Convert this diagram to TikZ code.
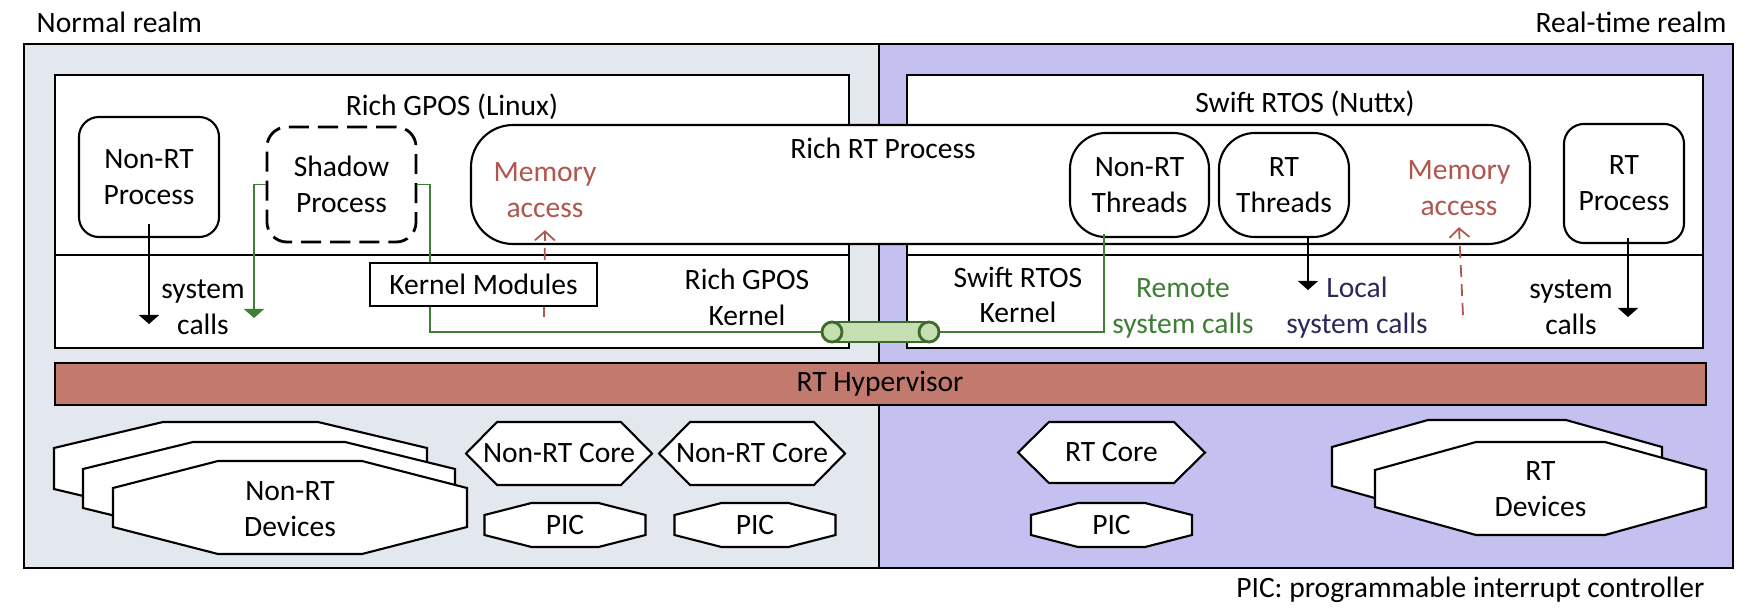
\documentclass[tikz,border=0pt]{standalone}
\usepackage{fontspec}
\setmainfont{Carlito}
\usetikzlibrary{arrows.meta,positioning}
\definecolor{normalbg}{HTML}{E3E8EE}
\definecolor{rtbg}{HTML}{C4C0EF}
\definecolor{hypbg}{HTML}{C27A6E}
\definecolor{memred}{HTML}{B0564C}
\definecolor{remgreen}{HTML}{3E7E35}
\definecolor{tubefill}{HTML}{C5DFB2}
\definecolor{tubeline}{HTML}{3C6A2A}
\definecolor{localblue}{HTML}{2A2A5A}
\tikzset{
  every node/.style={font=\fontsize{8.4}{10.2}\selectfont},
  box/.style={draw, line width=0.6pt, fill=white},
  proc/.style={draw, line width=0.6pt, fill=white, rounded corners=0.2cm, align=center, inner sep=0pt},
  thread/.style={proc, rounded corners=0.36cm, minimum height=1.04cm},
  txt/.style={align=center, inner sep=0pt},
  blk/.style={line width=0.45pt, -{Triangle[width=0.2cm,length=0.09cm]}},
  grn/.style={line width=0.5pt, draw=remgreen},
  memarrow/.style={line width=0.5pt, draw=memred, dash pattern=on 0.12cm off 0.07cm, -{Straight Barb[width=0.2cm,length=0.09cm]}},
  tube/.style={line width=0.8pt, draw=tubeline, fill=tubefill}
}
\newcommand{\chamf}[6]{%
  \draw[line width=0.6pt, fill=white] (#1-#3,#2-#4+#6) -- (#1-#3+#5,#2-#4) -- (#1+#3-#5,#2-#4) -- (#1+#3,#2-#4+#6) -- (#1+#3,#2+#4-#6) -- (#1+#3-#5,#2+#4) -- (#1-#3+#5,#2+#4) -- (#1-#3,#2+#4-#6) -- cycle;}

\begin{document}
\begin{tikzpicture}[x=0.01cm,y=-0.01cm]
\useasboundingbox (0,0) rectangle (1760,615);
\draw[line width=0.6pt, fill=normalbg] (24,44) rectangle (879,568);
\draw[line width=0.6pt, fill=rtbg] (879,44) rectangle (1733,568);
\draw[box] (55,75) rectangle (849,348);
\draw[line width=0.6pt] (55,255) -- (849,255);
\draw[box] (907,75) rectangle (1703,348);
\draw[line width=0.6pt] (907,255) -- (1703,255);
\draw[box, rounded corners=0.42cm] (471,125) rectangle (1530,244);
\draw[line width=0.6pt, fill=hypbg] (55,363) rectangle (1706,405);

\node[anchor=base west, inner sep=0pt] (nrealm) at (36,32) {Normal realm};
\node[anchor=base east, inner sep=0pt] (rrealm) at (1727,32) {Real-time realm};
\node[anchor=base] (gpos) at (452,115) {Rich GPOS (Linux)};
\node[anchor=base] (rtos) at (1305,113) {Swift RTOS (Nuttx)};
\node[anchor=base] (richrt) at (883,158) {Rich RT Process};
\node[anchor=base] (hyp) at (880,391) {RT Hypervisor};
\node[anchor=base east, inner sep=0pt] (legend) at (1705,597) {PIC: programmable interrupt controller};

\node[proc, minimum width=1.4cm, minimum height=1.2cm] (nrtp) at (149,177) {Non-RT\\Process};
\node[proc, dash pattern=on 0.2cm off 0.09cm, line width=0.8pt, minimum width=1.49cm, minimum height=1.15cm] (shadow) at (341.5,184.5) {Shadow\\Process};
\node[thread, minimum width=1.39cm] (nrtt) at (1139.5,185) {Non-RT\\Threads};
\node[thread, minimum width=1.3cm] (rtt) at (1284,185) {RT\\Threads};
\node[proc, minimum width=1.2cm, minimum height=1.19cm] (rtp) at (1624,183.5) {RT\\Process};
\node[txt, text=memred] (meml) at (545,190) {Memory\\access};
\node[txt, text=memred] (memr) at (1459,188) {Memory\\access};
\node[txt] (gk) at (747,297) {Rich GPOS\\Kernel};
\node[txt] (sk) at (1018,295) {Swift RTOS\\Kernel};
\node[txt] (scl) at (203,307) {system\\calls};
\node[txt] (scr) at (1571,307) {system\\calls};
\node[txt, text=remgreen] (remote) at (1183,308) {Remote\\system calls};
\node[txt, text=localblue] (local) at (1357,308) {Local\\system calls};

\coordinate (tubel) at (822,332);
\coordinate (tuber) at (939,332);
\coordinate (ncall) at (149,324);
\coordinate (shcall) at (254,318);
\coordinate (kbend) at (430,332);
\coordinate (lcall) at (1308,290);
\coordinate (rcall) at (1628,317);
\coordinate (memlo) at (544,317);
\coordinate (memro) at (1463,315);

\draw[blk] ([yshift=0.14cm]nrtp.south) -- (ncall);
\draw[grn, -{Triangle[width=0.2cm,length=0.09cm]}] (shadow.west) -| (shcall);
\draw[grn] (shadow.east) -| (kbend) -- (tubel);
\draw[grn] ([xshift=-0.355cm,yshift=0.04cm]nrtt.south) |- (tuber);
\draw[memarrow] (memlo) -- ([yshift=-0.12cm]meml.south);
\draw[memarrow] (memro) -- ([yshift=-0.11cm]memr.south);
\draw[blk] ([xshift=0.24cm]rtt.south) -- (lcall);
\draw[blk] ([xshift=0.04cm,yshift=0.06cm]rtp.south) -- (rcall);
\node[box, minimum width=2.27cm, minimum height=0.43cm, inner sep=0pt] (kmod) at (483.5,284.5) {Kernel Modules};

\filldraw[tube] (832,322) rectangle (929,342);
\filldraw[tube] (832,332) circle[radius=0.1cm];
\filldraw[tube] (929,332) circle[radius=0.1cm];

\chamf{240.5}{468.5}{186.5}{46.5}{109}{26}
\chamf{269}{488.5}{186}{46.5}{110}{27}
\chamf{290}{507.5}{177}{46.5}{105}{27}
\node[txt] (nrtdev) at (290,509.5) {Non-RT\\Devices};
\chamf{559}{453.5}{93}{31.5}{31}{31.5}
\node[txt] (core1) at (559,453.5) {Non-RT Core};
\chamf{752}{453.5}{93}{31.5}{31}{31.5}
\node[txt] (core2) at (752,453.5) {Non-RT Core};
\chamf{565}{525}{80.5}{22}{47}{12}
\node[txt] (pic1) at (565,525) {PIC};
\chamf{755}{525}{80.5}{22}{47}{12}
\node[txt] (pic2) at (755,525) {PIC};
\chamf{1111.5}{452.5}{93.5}{30.5}{31}{30.5}
\node[txt] (core3) at (1111.5,452.5) {RT Core};
\chamf{1111.5}{525}{80.5}{22}{47}{12}
\node[txt] (pic3) at (1111.5,525) {PIC};
\chamf{1497}{466.5}{165}{46.5}{96}{27}
\chamf{1540.5}{488.5}{165.5}{46.5}{101}{28}
\node[txt] (rtdev) at (1540.5,489) {RT\\Devices};
\end{tikzpicture}
\end{document}
